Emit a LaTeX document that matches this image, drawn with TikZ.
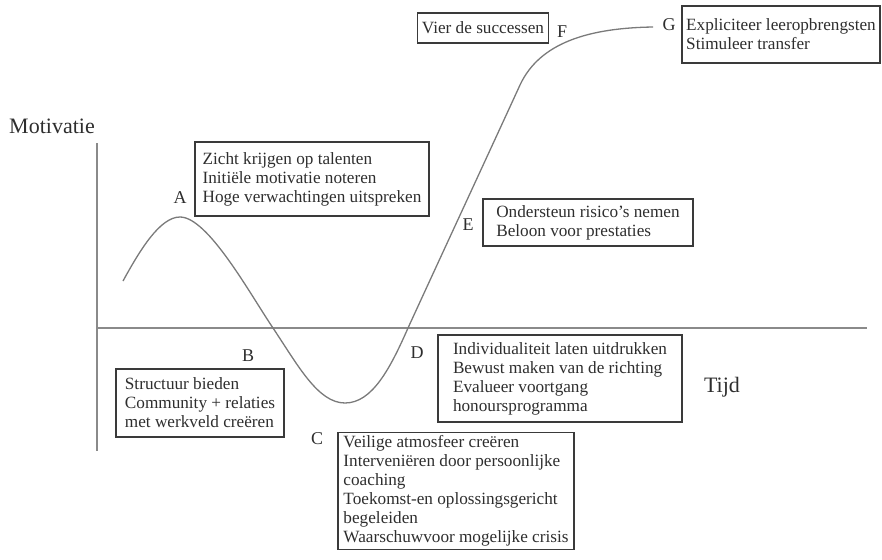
\documentclass[tikz,border=0pt]{standalone}
\usepackage{fontspec}
\setmainfont{Liberation Serif}
\definecolor{txt}{HTML}{2E2E2E}
\definecolor{boxc}{HTML}{3A3A3A}
\definecolor{curvec}{HTML}{7A7A7A}
\definecolor{axisc}{HTML}{8A8A8A}
\begin{document}
\begin{tikzpicture}[x=1pt,y=-1pt,
  infobox/.style={draw=boxc, line width=1.1pt, text=txt, align=left, inner xsep=4pt, inner ysep=3pt,
    font=\fontsize{17.2}{19}\selectfont},
  ptlabel/.style={text=txt, font=\fontsize{18}{20}\selectfont, inner sep=0pt},
  axlabel/.style={text=txt, font=\fontsize{22}{24}\selectfont, inner sep=0pt},
  axisline/.style={draw=axisc, line width=1.2pt},
  curveline/.style={draw=curvec, line width=1.3pt}]
\useasboundingbox (0,0) rectangle (882,559);

% axes
\coordinate (yt) at (97,143);
\coordinate (yb) at (97,451);
\coordinate (xl) at (96,328);
\coordinate (xr) at (867,328);
\draw[axisline] (yt) -- (yb);
\draw[axisline] (xl) -- (xr);

\node[axlabel] (mot) at (52,126) {Motivatie};
\node[axlabel] (tijd) at (722,387) {Tijd};

% curve
\coordinate (c0) at (123,281);
\coordinate (c1) at (180,217);
\coordinate (c2) at (273,328);
\coordinate (c3) at (345,403);
\coordinate (c4) at (408,328);
\coordinate (c5) at (520,85);
\coordinate (c6) at (653,27);
\draw[curveline] (c0) .. controls (140,250) and (160,217) .. (c1)
  .. controls (208,217) and (250,294) .. (c2)
  .. controls (298,365.5) and (318,403) .. (c3)
  .. controls (372,403) and (390,369) .. (c4)
  .. controls (430,280) and (498,133) .. (c5)
  .. controls (540,42) and (590,28) .. (c6);

% boxes
\node[infobox, minimum width=234pt, minimum height=74pt] (boxA) at (312,179)
  {Zicht krijgen op talenten\\Initiële motivatie noteren\\Hoge verwachtingen uitspreken};
\node[infobox, minimum width=168pt, minimum height=68pt] (boxB) at (200,403)
  {Structuur bieden\\Community + relaties\\met werkveld creëren};
\node[infobox, minimum width=236pt, minimum height=114pt] (boxC) at (456,491)
  {Veilige atmosfeer creëren\\Interveniëren door persoonlijke\\coaching\\Toekomst-en oplossingsgericht\\begeleiden\\Waarschuwvoor mogelijke crisis};
\node[infobox, minimum width=244pt, minimum height=87pt] (boxD) at (560,378.5)
  {Individualiteit laten uitdrukken\\Bewust maken van de richting\\Evalueer voortgang\\honoursprogramma};
\node[infobox, minimum width=210pt, minimum height=47pt] (boxE) at (588,222.5)
  {Ondersteun risico’s nemen\\Beloon voor prestaties};
\node[infobox, minimum width=130pt, minimum height=30pt] (boxF) at (483,28)
  {Vier de successen};
\node[infobox, minimum width=198pt, minimum height=57pt] (boxG) at (781,34.5)
  {Expliciteer leeropbrengsten\\Stimuleer transfer};

% point labels
\node[ptlabel] (A) at (180,198) {A};
\node[ptlabel] (B) at (248,356) {B};
\node[ptlabel] (C) at (317,439) {C};
\node[ptlabel] (D) at (417,353) {D};
\node[ptlabel] (E) at (468,225) {E};
\node[ptlabel] (F) at (562,32) {F};
\node[ptlabel] (G) at (669,25) {G};
\end{tikzpicture}
\end{document}
